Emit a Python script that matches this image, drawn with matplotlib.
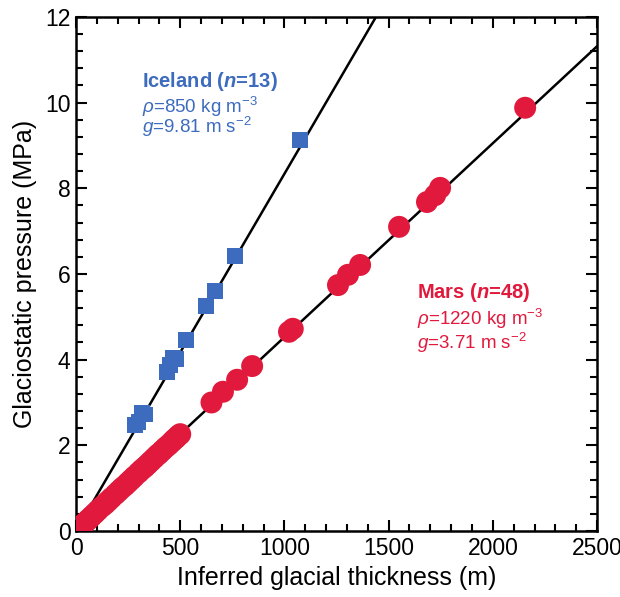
import numpy as np
import matplotlib
matplotlib.use('Agg')
import matplotlib.pyplot as plt
from matplotlib.ticker import MultipleLocator

plt.rcParams['font.family'] = ['Liberation Sans', 'DejaVu Sans']
plt.rcParams['mathtext.fontset'] = 'custom'
plt.rcParams['mathtext.rm'] = 'Liberation Sans'
plt.rcParams['mathtext.it'] = 'Liberation Sans:italic'
plt.rcParams['mathtext.bf'] = 'Liberation Sans:bold'
plt.rcParams['mathtext.bfit'] = 'Liberation Sans:italic:bold'

# Iceland data (thickness m, pressure MPa)
iceland_x = [283, 300, 317, 330, 437, 451, 465, 480, 528, 624, 667, 763, 1075]
iceland_y = [2.47, 2.55, 2.75, 2.72, 3.71, 3.88, 4.04, 4.02, 4.46, 5.25, 5.60, 6.42, 9.13]

# Mars data
mars_x = [15, 30, 45, 60, 75, 90, 105, 125, 140, 155, 170, 190, 205, 220, 235, 250, 265,
          280, 300, 315, 330, 345, 360, 375, 390, 400, 415, 430, 445, 460, 470, 480, 490, 500,
          650, 705, 773, 845, 1022, 1040, 1257, 1305, 1363, 1550, 1684, 1723, 1747, 2155]
mars_y = [0.07, 0.14, 0.20, 0.27, 0.34, 0.41, 0.48, 0.57, 0.63, 0.70, 0.77, 0.86, 0.93, 1.00,
          1.06, 1.13, 1.20, 1.27, 1.36, 1.43, 1.49, 1.56, 1.63, 1.70, 1.77, 1.81, 1.88, 1.95,
          2.01, 2.08, 2.13, 2.17, 2.22, 2.26,
          3.00, 3.25, 3.53, 3.85, 4.65, 4.72, 5.74, 5.98, 6.21, 7.10, 7.68, 7.84, 8.01, 9.88]

# density (kg m-3) and gravity (m s-2)
iceland_rho, iceland_g = 850, 9.81
mars_rho, mars_g = 1220, 3.71

blue = '#3D6BBE'
red = '#E1193C'

fig = plt.figure(figsize=(6.2, 5.97), dpi=100)
ax = fig.add_axes([0.1226, 0.1106, 0.8404, 0.861])

xl = np.array([0, 2500])
ax.plot(xl, xl * iceland_rho * iceland_g / 1e6, color='black', lw=1.8, zorder=2)
ax.plot(xl, xl * mars_rho * mars_g / 1e6, color='black', lw=1.8, zorder=2)

ax.scatter(mars_x, mars_y, s=250, marker='o', color=red, edgecolors='none', zorder=3)
ax.scatter(iceland_x, iceland_y, s=130, marker='s', color=blue, edgecolors='none', zorder=3)

ax.set_xlim(0, 2500)
ax.set_ylim(0, 12)
ax.xaxis.set_major_locator(MultipleLocator(500))
ax.xaxis.set_minor_locator(MultipleLocator(100))
ax.yaxis.set_major_locator(MultipleLocator(2))
ax.yaxis.set_minor_locator(MultipleLocator(0.4))
ax.tick_params(which='both', direction='in', top=True, right=True, labelsize=16.5, width=1.5)
ax.tick_params(which='major', length=8, pad=4)
ax.tick_params(which='minor', length=5)
for s in ax.spines.values():
    s.set_linewidth(1.8)

ax.set_xlabel('Inferred glacial thickness (m)', fontsize=18, labelpad=5)
ax.set_ylabel('Glaciostatic pressure (MPa)', fontsize=18, labelpad=6)

fs = 13.5
ax.text(317, 10.37, r'Iceland ($\mathbfit{n}$=13)', color=blue, fontsize=14.5,
        fontweight='bold', va='baseline')
ax.text(317, 9.76, r'$\rho$=850 kg m$^{-3}$', color=blue, fontsize=fs, va='baseline')
ax.text(317, 9.30, r'$g$=9.81 m s$^{-2}$', color=blue, fontsize=fs, va='baseline')

ax.text(1636, 5.44, r'Mars ($\mathbfit{n}$=48)', color=red, fontsize=14.5,
        fontweight='bold', va='baseline')
ax.text(1636, 4.81, r'$\rho$=1220 kg m$^{-3}$', color=red, fontsize=fs, va='baseline')
ax.text(1636, 4.24, r'$g$=3.71 m s$^{-2}$', color=red, fontsize=fs, va='baseline')

fig.savefig('out.png', dpi=100)
